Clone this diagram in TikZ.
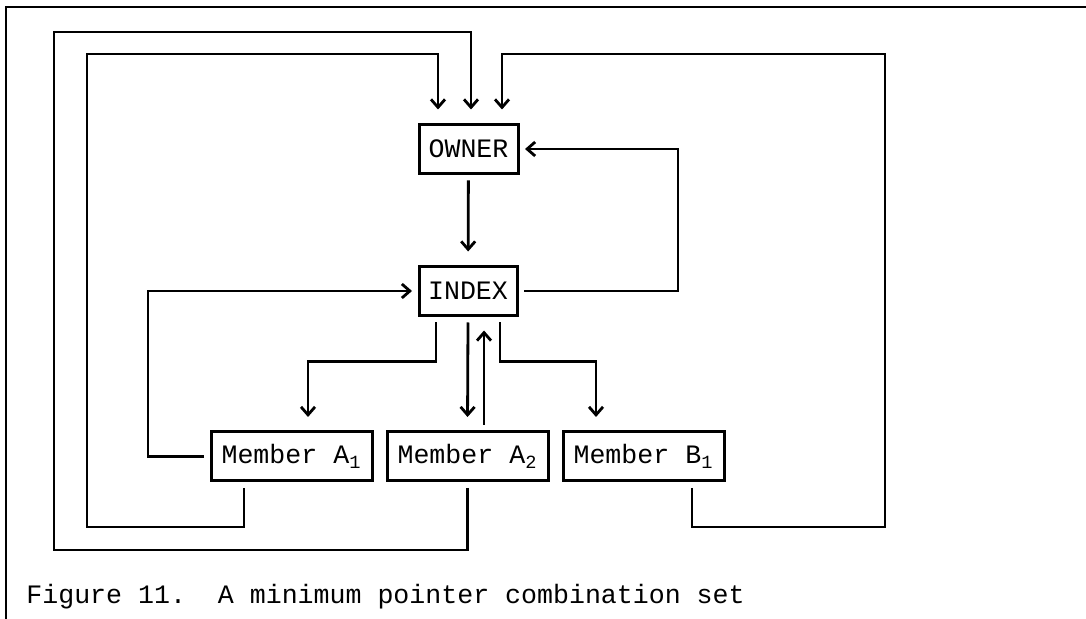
\documentclass[tikz,border=0pt]{standalone}
\usepackage{fontspec}
\setmainfont{Liberation Mono}
\usetikzlibrary{arrows.meta}
\tikzset{
  recbox/.style={draw, line width=1.5pt, inner sep=0pt, outer sep=3.5pt, minimum height=24.5pt},
  link/.style={line width=1.4pt},
  arr/.style={link, -{Straight Barb[length=4pt,width=7pt,line width=1.4pt]}},
  varr/.style={arr, shorten >=4pt}
}

\begin{document}
\begin{tikzpicture}[x=0.5pt, y=-0.5pt, font=\fontsize{13.3}{16}\selectfont]
			%%%%% START %%%%%
			\useasboundingbox (0,0) rectangle (1086,619);
			
			\draw[line width=1.2pt] (1086,7) -- (6,7) -- (6,619);
			
			\node[recbox, minimum width=49.5pt] (owner) at (468.5,149) {OWNER};
			\node[recbox, minimum width=49pt] (index) at (468,291) {INDEX};
			
			\node[recbox, minimum width=80.5pt] (memA1) at (291.5,456.5) {Member A\textsubscript{1}};
			\node[recbox, minimum width=80.5pt] (memA2) at (467.5,456.5) {Member A\textsubscript{2}};
			\node[recbox, minimum width=80.5pt] (memB1) at (643.5,456.5) {Member B\textsubscript{1}};
			
			\coordinate (cornA1) at (87,54);
			\coordinate (cornA2) at (54,32);
			\coordinate (cornB1) at (885,54);
			
			\draw[varr] (owner) -- (index);
			\draw[arr] (index.east) -- ++(154,0) |- (owner.east);
			
			\draw[arr] (memA1.west) -- ++(-56,0) |- (index.west);
			\draw[varr] ([xshift=-16pt]index.south) -- ++(0,39) -| ([xshift=8.25pt]memA1.north);
			\draw[varr] (index.south) -- (memA2.north);
			\draw[varr] ([xshift=8.25pt]memA2.north) -- ([xshift=8pt]index.south);
			\draw[varr] ([xshift=16pt]index.south) -- ++(0,39) -| ([xshift=-23.75pt]memB1.north);
			
			\draw[varr] ([xshift=-23.75pt]memA1.south) -- ++(0,39) -| (cornA1) -| ([xshift=-15.25pt]owner.north);
			\draw[varr] (memA2.south) -- ++(0,62) -| (cornA2) -| ([xshift=1.25pt]owner.north);
			\draw[varr] ([xshift=24.25pt]memB1.south) -- ++(0,39) -| (cornB1) -| ([xshift=16.75pt]owner.north);
			
			\node[anchor=base west, inner sep=0pt] (caption) at (26,603) {Figure 11.\ \ A minimum pointer combination set};
			
			%%%%% END %%%%%
\end{tikzpicture}
\end{document}
